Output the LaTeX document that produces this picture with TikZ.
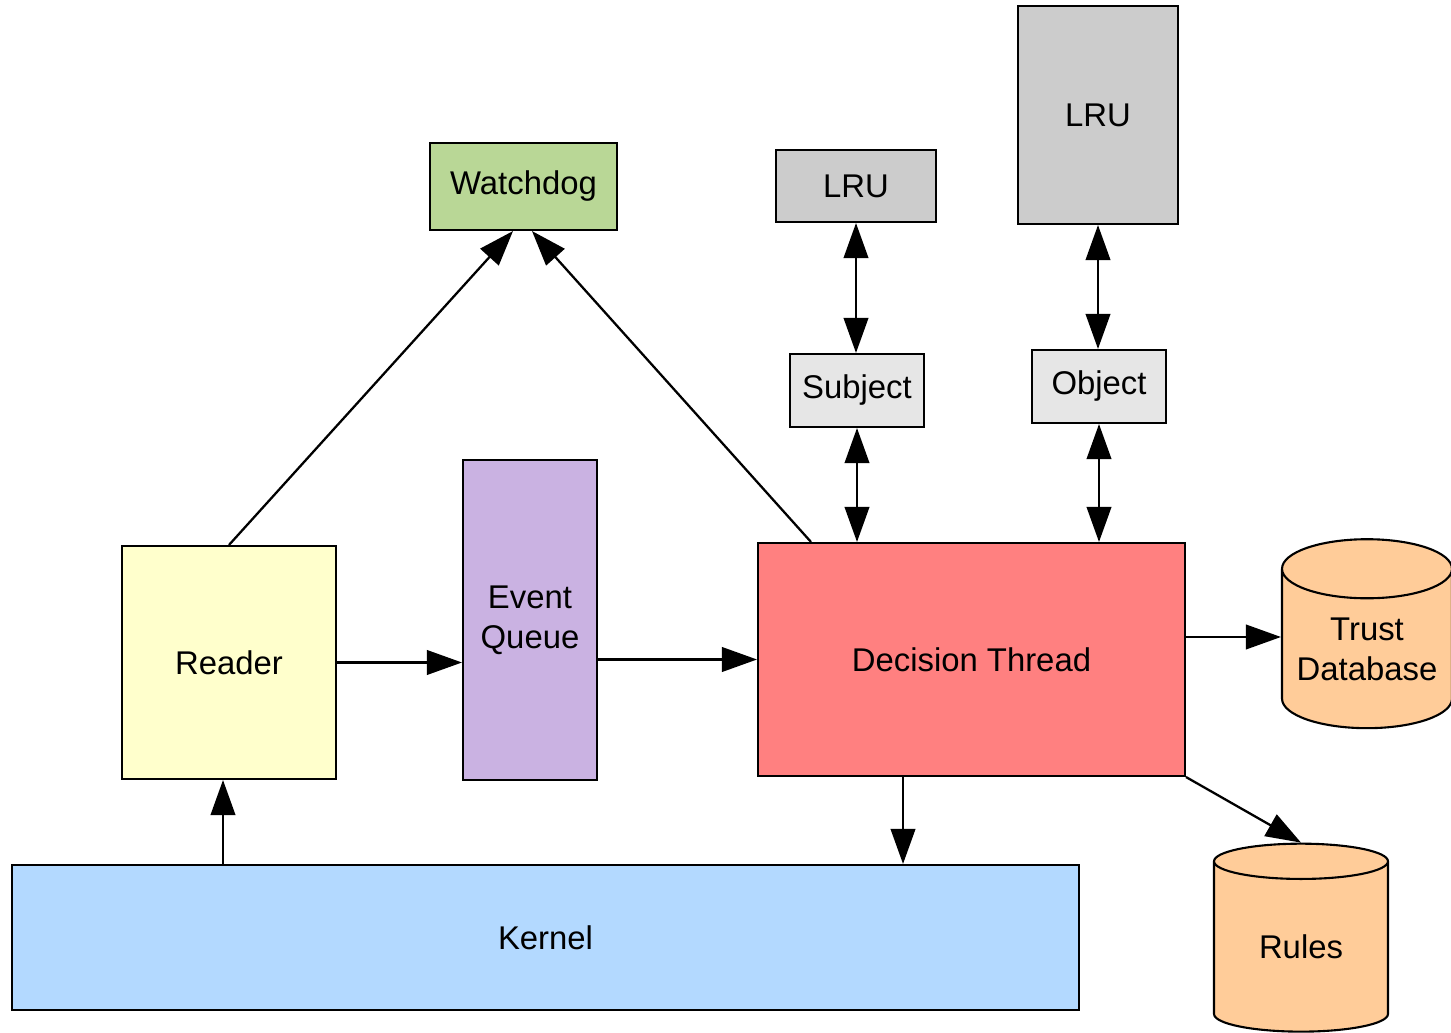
\documentclass[tikz,border=0pt]{standalone}
\usepackage{fontspec}
\setmainfont{Liberation Sans}
\usetikzlibrary{arrows.meta,shapes.geometric}
\definecolor{mygreen}{RGB}{185, 215, 150}
\definecolor{myyellow}{RGB}{255, 255, 204}
\definecolor{mypurple}{RGB}{202, 178, 226}
\definecolor{myred}{RGB}{255, 128, 128}
\definecolor{myblue}{RGB}{179, 217, 255}
\definecolor{myorange}{RGB}{255, 204, 153}
\definecolor{mygray}{RGB}{204, 204, 204}
\definecolor{mylightgray}{RGB}{230, 230, 230}

\begin{document}
\begin{tikzpicture}[x=0.02cm, y=-0.02cm]
                \useasboundingbox (0,0) rectangle (1451,1033);
                \tikzstyle{box}=[rectangle, draw, line width=1.2pt, inner sep=0pt, align=center, font=\fontsize{18.7}{22.7}\selectfont]
                \tikzstyle{db}=[cylinder, shape border rotate=90, aspect=0.42, draw, line width=1.2pt, inner sep=0pt, align=center, fill=myorange, font=\fontsize{18.7}{22.7}\selectfont]
                \node[box, fill=mygreen, minimum width=3.74cm, minimum height=1.74cm] (W) at (523.5,186.5) {Watchdog};
                \node[box, fill=mygray, minimum width=3.2cm, minimum height=1.44cm] (L1) at (856,186) {LRU};
                \node[box, fill=mygray, minimum width=3.2cm, minimum height=4.36cm] (L2) at (1098,115) {LRU};
                \node[box, fill=mylightgray, minimum width=2.68cm, minimum height=1.46cm] (S) at (857,390.5) {Subject};
                \node[box, fill=mylightgray, minimum width=2.68cm, minimum height=1.46cm] (O) at (1099,386.5) {Object};
                \node[box, fill=myyellow, minimum width=4.28cm, minimum height=4.66cm] (R) at (229,662.5) {Reader};
                \node[box, fill=mypurple, minimum width=2.68cm, minimum height=6.4cm] (Q) at (530,620) {Event\\Queue};
                \node[box, fill=myred, minimum width=8.54cm, minimum height=4.66cm] (D) at (971.5,659.5) {Decision Thread};
                \node[box, fill=myblue, minimum width=21.34cm, minimum height=2.9cm] (K) at (545.5,937.5) {Kernel};
                \node[db, minimum width=3.4cm, minimum height=3.78cm] (T) at (1367,649) {Trust\\Database};
                \node[db, minimum width=3.48cm, minimum height=3.76cm] (Ru) at (1301,947) {Rules};

                \tikzstyle{bind}=[-{Triangle[length=20pt,width=14pt]}, line width=1.3pt]
                \tikzstyle{both}=[{Triangle[length=20pt,width=14pt]}-{Triangle[length=20pt,width=14pt]}, line width=1.3pt]

                \draw[bind] (R.north) -- ([xshift=-0.21cm]W.south);
                \draw[bind] ([xshift=1.08cm]D.north west) -- ([xshift=0.17cm]W.south);
                \draw[both] (L1.south) -- (L1.south |- S.north);
                \draw[both] (S.south) -- (S.south |- D.north);
                \draw[both] (L2.south) -- (L2.south |- O.north);
                \draw[both] (O.south) -- (O.south |- D.north);
                \draw[bind] (R.east) -- (R.east -| Q.west);
                \draw[bind] (Q.east |- D.west) -- (D.west);
                \draw[bind] ([yshift=0.24cm]D.east |- T.west) -- ([yshift=0.24cm]T.west);
                \draw[bind] (D.south east) -- (Ru.north);
                \draw[bind] ([xshift=-1.37cm]D.south) -- ([xshift=-1.37cm]D.south |- K.north);
                \draw[bind] ([xshift=-0.12cm]R.south |- K.north) -- ([xshift=-0.12cm]R.south);
            \end{tikzpicture}
\end{document}
